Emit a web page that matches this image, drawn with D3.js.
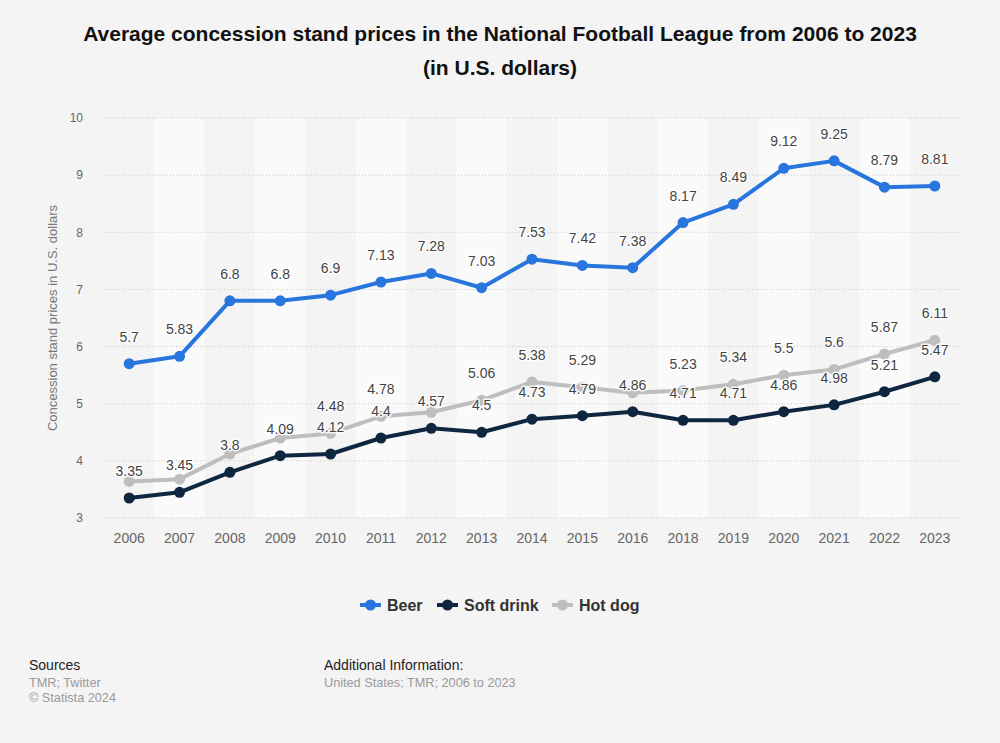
<!DOCTYPE html>
<html>
<head>
<meta charset="utf-8">
<script src="https://cdn.jsdelivr.net/npm/d3@7"></script>
<style>
  html, body { margin: 0; padding: 0; background: #f4f4f4; }
  svg { display: block; font-family: "Liberation Sans", Arial, sans-serif; }
</style>
</head>
<body>
<svg id="chart" width="1000" height="743"></svg>
<script>
const years = ["2006","2007","2008","2009","2010","2011","2012","2013","2014","2015","2016","2018","2019","2020","2021","2022","2023"];
const beer = [5.7, 5.83, 6.8, 6.8, 6.9, 7.13, 7.28, 7.03, 7.53, 7.42, 7.38, 8.17, 8.49, 9.12, 9.25, 8.79, 8.81];
const softDrink = [3.35, 3.45, 3.8, 4.09, 4.12, 4.4, 4.57, 4.5, 4.73, 4.79, 4.86, 4.71, 4.71, 4.86, 4.98, 5.21, 5.47];
const hotDog = [3.64, 3.68, 4.12, 4.4, 4.48, 4.78, 4.85, 5.06, 5.38, 5.29, 5.19, 5.23, 5.34, 5.5, 5.6, 5.87, 6.11];
const yTicks = [3, 4, 5, 6, 7, 8, 9, 10];
const seriesNames = ["Beer", "Soft drink", "Hot dog"];
const seriesColors = ["#2876dd", "#0f2640", "#bebebe"];

const svg = d3.select("#chart");
const W = 1000, H = 743;
svg.append("rect").attr("width", W).attr("height", H).attr("fill", "#f4f4f4");

const x = d3.scaleBand().domain(years).range([104, 960]).padding(0);
const y = d3.scaleLinear().domain([3, 10]).range([518, 118]);

// Title
const title = svg.append("text").attr("text-anchor", "middle").attr("font-weight", "bold")
  .attr("font-size", 21).attr("fill", "#111");
title.append("tspan").attr("x", 500).attr("y", 41).text("Average concession stand prices in the National Football League from 2006 to 2023");
title.append("tspan").attr("x", 500).attr("y", 75).text("(in U.S. dollars)");

// Alternating bands
svg.append("g").selectAll("rect").data(years.filter((d, i) => i % 2 === 1)).join("rect")
  .attr("x", d => x(d)).attr("width", x.bandwidth())
  .attr("y", y(10)).attr("height", y(3) - y(10))
  .attr("fill", "#fafafa");

// Gridlines
svg.append("g").selectAll("line").data(yTicks).join("line")
  .attr("x1", 104).attr("x2", 960)
  .attr("y1", d => y(d)).attr("y2", d => y(d))
  .attr("stroke", "#c8c8c8").attr("stroke-width", 1).attr("stroke-dasharray", "1,2");

// Y axis
const yAxis = d3.axisLeft(y).tickValues(yTicks).tickSize(0).tickPadding(0).tickFormat(d3.format("d"));
const yg = svg.append("g").attr("transform", "translate(83,0)").call(yAxis);
yg.select(".domain").remove();
yg.selectAll("text").attr("font-size", 12).attr("fill", "#666").attr("font-family", "Liberation Sans, Arial, sans-serif").attr("dy", "0.32em");

// Y title
svg.append("text").attr("transform", "translate(57," + ((y(3) + y(10)) / 2) + ") rotate(-90)")
  .attr("text-anchor", "middle").attr("font-size", 13).attr("fill", "#777")
  .text("Concession stand prices in U.S. dollars");

// X axis
const xAxis = d3.axisBottom(x).tickSize(0).tickPadding(0);
const xg = svg.append("g").attr("transform", "translate(0,538)").call(xAxis);
xg.select(".domain").remove();
xg.selectAll("text").attr("font-size", 14).attr("fill", "#666").attr("font-family", "Liberation Sans, Arial, sans-serif").attr("dy", "0.35em");

const cx = d => x(d) + x.bandwidth() / 2;
const allSeries = [beer, softDrink, hotDog];

// Lines and markers (draw hot dog first, then soft drink, then beer)
const drawOrder = [2, 1, 0];
const line = d3.line().x((d, i) => cx(years[i])).y(d => y(d));
drawOrder.forEach(si => {
  const vals = allSeries[si];
  const g = svg.append("g");
  g.append("path").datum(vals).attr("d", line).attr("fill", "none")
    .attr("stroke", seriesColors[si]).attr("stroke-width", 4).attr("stroke-linejoin", "round");
  g.selectAll("circle").data(vals).join("circle")
    .attr("cx", (d, i) => cx(years[i])).attr("cy", d => y(d)).attr("r", 5.5)
    .attr("fill", seriesColors[si]);
});

// Data labels with simple collision avoidance: hot dog label hidden if too close to soft drink label
const labelOffset = 22;
const labels = [];
allSeries.forEach((vals, si) => {
  vals.forEach((v, i) => {
    let show = true;
    if (si === 2) {
      const other = softDrink[i];
      if (Math.abs(y(v) - y(other)) < 20) show = false;
    }
    if (show) labels.push({ x: cx(years[i]), y: y(v) - labelOffset, t: String(v) });
  });
});
const lg = svg.append("g");
lg.selectAll("text.halo").data(labels).join("text").attr("class", "halo")
  .attr("x", d => d.x).attr("y", d => d.y).attr("text-anchor", "middle")
  .attr("font-size", 14).attr("fill", "none").attr("stroke", "#ffffff").attr("stroke-width", 3)
  .attr("stroke-linejoin", "round").attr("stroke-opacity", 0.85).text(d => d.t);
lg.selectAll("text.lab").data(labels).join("text").attr("class", "lab")
  .attr("x", d => d.x).attr("y", d => d.y).attr("text-anchor", "middle")
  .attr("font-size", 14).attr("fill", "#444").text(d => d.t);

// Legend
const legendItems = [
  { name: seriesNames[0], color: seriesColors[0], x: 360 },
  { name: seriesNames[1], color: seriesColors[1], x: 437 },
  { name: seriesNames[2], color: seriesColors[2], x: 552 }
];
const leg = svg.append("g");
legendItems.forEach(it => {
  const g = leg.append("g").attr("transform", "translate(" + it.x + ",605)");
  g.append("line").attr("x1", 0).attr("x2", 21).attr("y1", 0).attr("y2", 0)
    .attr("stroke", it.color).attr("stroke-width", 4);
  g.append("circle").attr("cx", 10.5).attr("cy", 0).attr("r", 5.5).attr("fill", it.color);
  g.append("text").attr("x", 27).attr("y", 0).attr("dy", "0.35em")
    .attr("font-size", 16).attr("font-weight", "bold").attr("fill", "#333").text(it.name);
});

// Footer
svg.append("text").attr("x", 29).attr("y", 670).attr("font-size", 14).attr("fill", "#222").text("Sources");
svg.append("text").attr("x", 29).attr("y", 687).attr("font-size", 12.7).attr("fill", "#999").text("TMR; Twitter");
svg.append("text").attr("x", 29).attr("y", 702).attr("font-size", 12.7).attr("fill", "#999").text("© Statista 2024");
svg.append("text").attr("x", 324).attr("y", 670).attr("font-size", 14).attr("fill", "#222").text("Additional Information:");
svg.append("text").attr("x", 324).attr("y", 687).attr("font-size", 12.7).attr("fill", "#999").text("United States; TMR; 2006 to 2023");
</script>
</body>
</html>
